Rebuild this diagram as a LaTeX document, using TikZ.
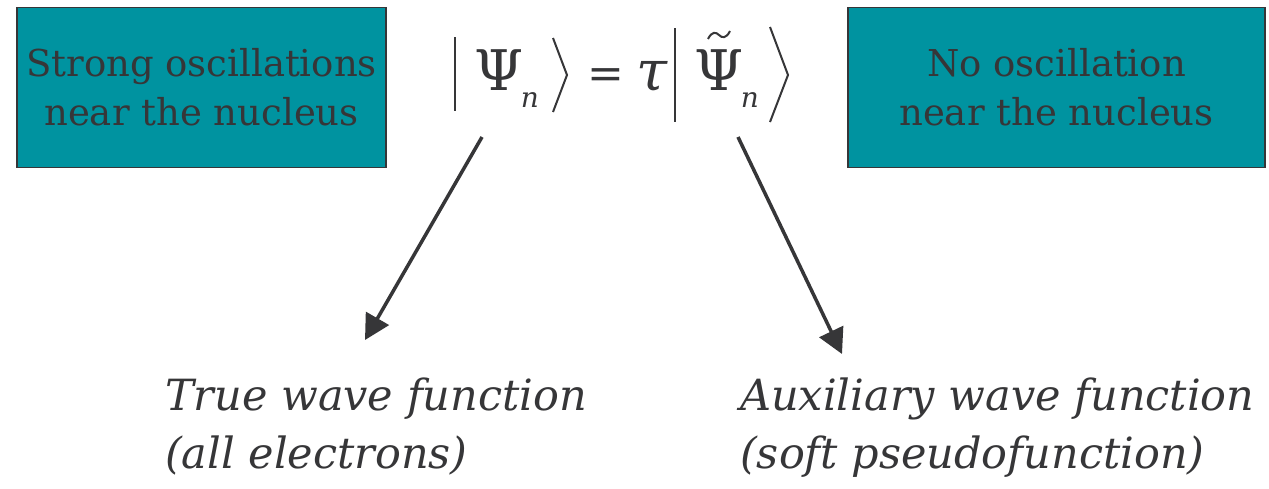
\documentclass[tikz,border=0pt]{standalone}
\usepackage{fontspec}
\setmainfont{DejaVu Serif}
\usetikzlibrary{arrows.meta}
\definecolor{boxfill}{HTML}{0093A0}
\definecolor{ink}{HTML}{363638}
\tikzset{
  boxnode/.style={draw=ink, line width=1.5pt, fill=boxfill, text=ink, minimum width=369pt, minimum height=160pt, inner sep=0pt, align=center, font=\fontsize{37}{49}\selectfont},
  bigsym/.style={text=ink, inner sep=0pt, font=\fontsize{56}{56}\selectfont},
  eqsym/.style={text=ink, inner sep=0pt, font=\fontsize{44}{44}\selectfont},
  subsym/.style={text=ink, inner sep=0pt, font=\itshape\fontsize{28}{28}\selectfont},
  delim/.style={draw=ink, line width=2pt},
  label/.style={text=ink, inner sep=0pt, anchor=base west, font=\itshape\fontsize{43}{43}\selectfont},
  pointer/.style={draw=ink, line width=3.5pt, -{Triangle[length=25pt,width=26pt]}},
}
\begin{document}
\begin{tikzpicture}[x=1pt,y=-1pt]
\useasboundingbox (0,0) rectangle (1269,488);
\fill[white] (0,0) rectangle (1269,488);
% boxes
\node[boxnode] (strong) at (201.5,87.5) {Strong oscillations\\near the nucleus};
\node[boxnode, minimum width=417pt] (noosc) at (1056.5,87.5) {No oscillation\\near the nucleus};
% equation
\draw[delim] (455,37) -- (455,111);
\node[bigsym, anchor=base] (psi) at (499,90) {Ψ};
\node[subsym, anchor=base] (n1) at (530,107) {n};
\draw[delim] (553,38) -- (567,75) -- (553,112);
\node[eqsym, anchor=base] (eq) at (606,88) {=};
\node[bigsym, anchor=base] (tau) at (652,90) {\itshape τ};
\draw[delim] (675,28) -- (675,122);
\node[bigsym, anchor=base] (psit) at (719,90) {Ψ};
\draw[ink, line width=2pt] (708,39) .. controls (712,31) and (716,32) .. (719,35) .. controls (722,38) and (726,39) .. (730,31);
\node[subsym, anchor=base] (n2) at (750,107) {n};
\draw[delim] (770,27) -- (788,75) -- (770,122);
% arrow ends
\coordinate (a1s) at (482,137);
\coordinate (a1e) at (365,340);
\coordinate (a2s) at (738,137);
\coordinate (a2e) at (842,354);
\draw[pointer] (a1s) -- (a1e);
\draw[pointer] (a2s) -- (a2e);
% labels
\node[label] (true1) at (165,410) {True wave function};
\node[label] (true2) at (165,468) {(all electrons)};
\node[label] (aux1) at (740,410) {Auxiliary wave function};
\node[label] (aux2) at (740,468) {(soft pseudofunction)};
\end{tikzpicture}
\end{document}
